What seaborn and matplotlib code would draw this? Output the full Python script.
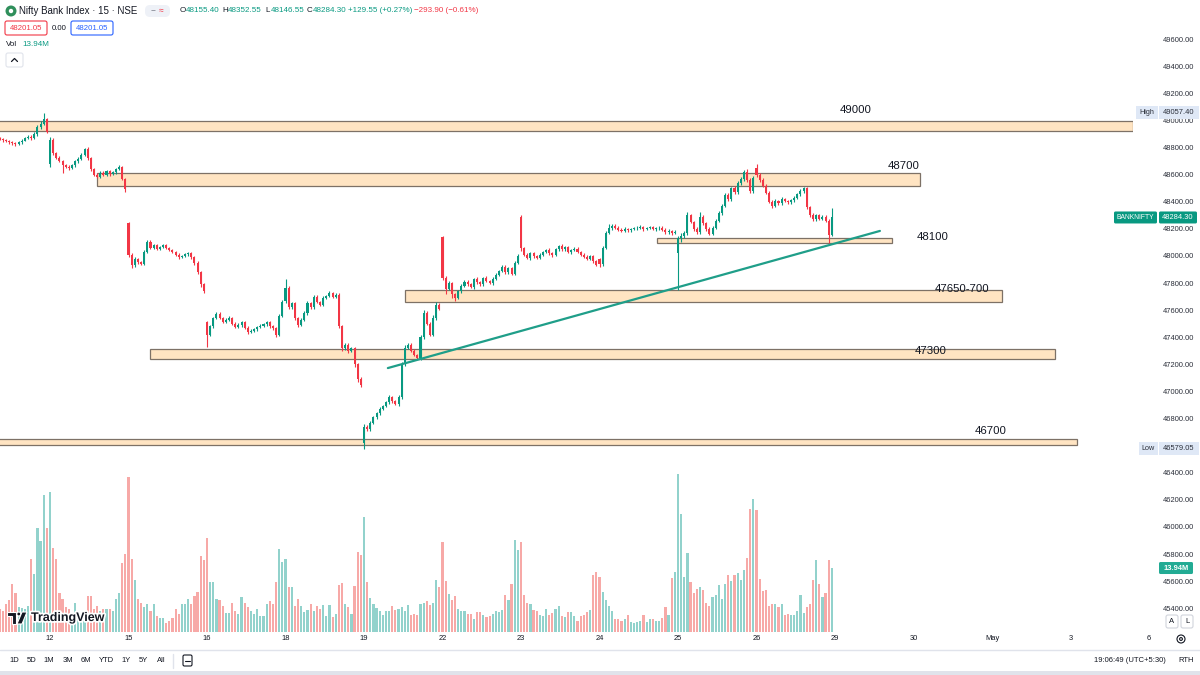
import numpy as np
import pandas as pd
import seaborn as sns
import matplotlib.pyplot as plt
import matplotlib.patheffects as pe
from matplotlib.patches import Rectangle, Circle, Polygon, FancyBboxPatch
from matplotlib.lines import Line2D
from matplotlib.transforms import IdentityTransform, blended_transform_factory
from matplotlib.ticker import FuncFormatter

# Nifty Bank Index, 15 min bars: last 16 bars of 10 Apr, then 12..26 Apr 2024 (25 bars a day)
closes = [
    48862, 48855, 48848, 48840, 48832, 48826, 48840, 48852, 48868, 48880, 48872, 48900, 48950, 48975, 49010, 48918,  # 10
    48858, 48760, 48725, 48700, 48668, 48660, 48650, 48668, 48700, 48718, 48745, 48790, 48720, 48640, 48600, 48585,
    48615, 48600, 48625, 48605, 48618, 48640, 48655, 48570, 48495,  # 12
    48010, 47930, 47975, 47955, 47940, 48030, 48105, 48060, 48078, 48052, 48065, 48080, 48062, 48045, 48030, 48010,
    47990, 48000, 48012, 48020, 47990, 47950, 47880, 47790, 47745,  # 15
    47420, 47480, 47540, 47575, 47545, 47515, 47530, 47545, 47500, 47475, 47490, 47510, 47470, 47440, 47450, 47460,
    47475, 47485, 47495, 47510, 47480, 47465, 47420, 47560, 47660,  # 16
    47765, 47620, 47650, 47540, 47490, 47530, 47580, 47650, 47620, 47700, 47660, 47640, 47690, 47705, 47725, 47700,
    47715, 47480, 47320, 47345, 47300, 47320, 47200, 47090, 47050,  # 18
    46740, 46720, 46770, 46810, 46840, 46870, 46890, 46920, 46960, 46930, 46905, 46960, 47200, 47320, 47345, 47300,
    47270, 47250, 47400, 47580, 47500, 47420, 47540, 47640, 47610,  # 19
    47840, 47760, 47800, 47720, 47690, 47740, 47780, 47810, 47790, 47770, 47830, 47805, 47790, 47840, 47815, 47800,
    47830, 47860, 47890, 47920, 47880, 47910, 47870, 47950, 48000,  # 22
    48060, 48010, 47985, 48020, 48000, 47985, 48010, 48030, 48045, 48020, 48005, 48050, 48075, 48050, 48065, 48030,
    48045, 48055, 48030, 48010, 47995, 47980, 48000, 47960, 47935,  # 23
    47940, 48060, 48170, 48205, 48225, 48210, 48195, 48185, 48200, 48190, 48198, 48205, 48210, 48215, 48200, 48205,
    48212, 48200, 48205, 48210, 48195, 48175, 48185, 48170, 48180,  # 24
    48135, 48150, 48170, 48300, 48250, 48200, 48175, 48290, 48240, 48200, 48165, 48210, 48260, 48320, 48370, 48450,
    48420, 48500, 48470, 48540, 48565, 48620, 48560, 48480, 48578.2,  # 25
    48600, 48560, 48520, 48465, 48400, 48370, 48405, 48390, 48420, 48405, 48395, 48410, 48430, 48455, 48480, 48500,
    48360, 48300, 48270, 48300, 48275, 48290, 48260, 48154.75, 48284.3,  # 26
]

volumes_m = [
    5.0, 4.6, 6.0, 7.0, 10.5, 8.5, 5.5, 5.3, 5.0, 5.6, 15.8, 12.6, 22.6, 19.8, 29.8, 22.6,
    30.5, 18.3, 16.0, 8.5, 7.2, 5.4, 5.0, 2.0, 6.3, 4.6, 3.5, 4.0, 7.8, 7.8, 5.0, 5.7, 4.5, 5.0, 5.0, 5.0, 4.5, 7.2, 8.5, 15.0, 17.0,
    33.8, 16.0, 11.3, 7.2, 6.3, 5.5, 6.0, 4.5, 6.0, 3.5, 3.0, 3.0, 2.0, 2.5, 3.0, 5.0, 4.0, 6.0, 6.2, 7.2, 6.0, 7.8, 8.7, 16.6, 15.7,
    20.5, 10.9, 10.9, 7.2, 7.0, 5.7, 4.2, 4.2, 6.3, 4.5, 4.0, 7.6, 6.3, 5.5, 4.5, 4.0, 5.0, 3.5, 3.5, 6.0, 6.8, 6.0, 11.0, 18.0, 15.3,
    16.0, 9.8, 9.8, 5.7, 7.2, 5.7, 4.3, 4.8, 6.0, 4.6, 5.7, 5.0, 5.9, 3.5, 5.9, 3.2, 4.0, 10.2, 10.7, 6.0, 5.5, 4.0, 10.0, 17.4, 16.8,
    25.0, 11.0, 7.5, 6.1, 5.2, 4.5, 3.6, 4.6, 4.6, 5.6, 4.9, 5.0, 5.4, 4.5, 5.8, 3.6, 3.9, 3.8, 6.1, 6.3, 6.7, 5.8, 6.3, 11.4, 9.8,
    19.6, 11.2, 8.3, 7.0, 7.9, 5.0, 4.5, 4.5, 4.0, 4.0, 2.9, 4.4, 4.4, 3.8, 3.3, 3.4, 4.0, 4.6, 4.4, 4.7, 8.1, 7.0, 10.5, 20.0, 17.8,
    19.5, 8.0, 6.3, 6.0, 4.9, 4.5, 3.6, 3.4, 5.0, 3.6, 4.1, 5.0, 5.6, 3.4, 3.3, 4.3, 4.4, 3.4, 2.5, 3.4, 3.6, 4.4, 4.9, 12.5, 13.0,
    11.9, 8.7, 6.9, 5.6, 4.6, 2.9, 2.9, 2.5, 2.9, 3.8, 2.2, 2.0, 2.2, 2.5, 3.6, 2.2, 2.9, 2.9, 2.5, 2.5, 3.0, 5.4, 3.6, 11.8, 13.1,
    34.4, 25.8, 12.0, 17.2, 10.9, 8.4, 9.4, 9.9, 9.2, 6.3, 5.7, 7.6, 8.1, 10.2, 7.2, 10.5, 12.5, 11.2, 12.5, 12.9, 11.3, 13.6, 16.1, 26.8, 29.0,
    26.5, 11.5, 9.0, 9.1, 5.7, 6.1, 6.0, 5.4, 6.0, 3.8, 4.0, 3.6, 3.8, 4.6, 8.1, 4.1, 5.4, 6.0, 11.4, 15.6, 10.5, 7.6, 8.4, 15.6, 13.94,
]

# wick length above / below the body, in index points
wick_up = [
    10, 8, 12, 10, 8, 10, 12, 8, 10, 14, 12, 15, 20, 18, 47.4, 10,
    22, 15, 10, 12, 8, 12, 10, 8, 12, 10, 14, 10, 12, 8, 10, 12, 10, 14, 10, 8, 12, 10, 14, 10, 8,
    12, 10, 14, 8, 10, 12, 13, 10, 8, 10, 8, 10, 8, 6, 10, 8, 10, 8, 10, 12, 8, 10, 12, 10, 14,
    8, 14, 10, 12, 10, 8, 12, 10, 8, 10, 12, 10, 8, 10, 12, 10, 8, 10, 8, 12, 10, 8, 12, 14, 16,
    65, 12, 14, 10, 12, 10, 14, 18, 12, 10, 14, 10, 12, 10, 14, 12, 10, 12, 14, 10, 12, 10, 12, 10, 14,
    20, 10, 12, 8, 10, 12, 8, 10, 12, 8, 10, 14, 16, 24, 12, 10, 12, 8, 20, 24, 12, 10, 22, 18, 12,
    10, 14, 12, 10, 8, 12, 10, 14, 10, 12, 10, 12, 10, 8, 12, 10, 14, 12, 10, 12, 10, 12, 10, 14, 12,
    13, 10, 12, 10, 8, 10, 12, 10, 8, 12, 10, 12, 8, 10, 12, 10, 8, 10, 12, 8, 10, 12, 10, 8, 10,
    10, 12, 14, 31, 12, 10, 8, 10, 12, 8, 10, 8, 10, 12, 8, 10, 12, 8, 10, 12, 8, 10, 12, 10, 14,
    15, 20, 14, 25, 12, 10, 12, 35, 12, 10, 14, 12, 10, 14, 12, 16, 14, 12, 14, 10, 16, 12, 20, 14, 12,
    29, 12, 14, 10, 12, 10, 14, 10, 12, 10, 8, 10, 12, 10, 14, 12, 10, 12, 14, 10, 12, 10, 14, 10, 68.25,
]
wick_down = [
    8, 10, 6, 12, 10, 14, 8, 10, 6, 8, 15, 10, 12, 15, 10, 12,
    20, 12, 10, 8, 56, 10, 12, 10, 8, 12, 10, 8, 14, 12, 10, 8, 12, 10, 8, 12, 10, 14, 8, 12, 20,
    20, 20, 10, 12, 8, 10, 8, 12, 10, 8, 6, 8, 10, 8, 10, 12, 10, 8, 6, 10, 12, 14, 10, 20, 18,
    90, 10, 12, 8, 10, 12, 8, 10, 12, 10, 8, 12, 10, 14, 8, 10, 12, 8, 10, 8, 12, 10, 18, 10, 12,
    10, 12, 14, 16, 12, 10, 8, 12, 10, 12, 8, 10, 12, 8, 10, 12, 10, 14, 18, 12, 14, 10, 16, 18, 14,
    40.95, 12, 10, 8, 10, 12, 10, 8, 10, 12, 8, 10, 14, 12, 10, 12, 10, 12, 14, 12, 10, 14, 12, 10, 12,
    20, 40, 12, 30, 25, 10, 12, 10, 12, 8, 10, 12, 10, 12, 8, 10, 12, 10, 8, 10, 12, 10, 12, 10, 8,
    20, 12, 10, 14, 12, 10, 8, 12, 10, 12, 10, 8, 10, 12, 10, 8, 12, 10, 8, 10, 12, 10, 8, 14, 12,
    20, 12, 10, 8, 10, 12, 8, 10, 8, 10, 12, 8, 10, 8, 12, 10, 8, 10, 12, 10, 14, 12, 10, 12, 10,
    268, 30, 20, 12, 10, 14, 12, 10, 14, 12, 10, 12, 10, 12, 14, 10, 12, 14, 10, 12, 14, 10, 12, 16, 14,
    20, 14, 12, 10, 12, 14, 10, 12, 10, 8, 10, 12, 10, 12, 10, 14, 12, 10, 12, 14, 10, 12, 10, 58.75, 8.85,
]

# opens that do not start at the previous close
gap_opens = {0: 48870, 16: 48680, 41: 48240, 66: 47515, 91: 47665, 116: 46620,
             141: 48140, 166: 48290, 191: 47975, 216: 48020, 241: 48650, 265: 48155.4}

date_labels = ['12', '15', '16', '18', '19', '22', '23', '24', '25', '26', '29', '30', 'May', '3', '6']
date_bars = [16, 41, 66, 91, 116, 141, 166, 191, 216, 241, 266, 291, 316, 341, 366]

# drawn support / resistance zones (bar index from..to, price low..high)
band_names = ['49000', '48700', '48100', '47650-700', '47300', '46700']
band_low = [48922, 48517, 48096, 47661, 47240, 46605]
band_high = [48996, 48612, 48133, 47749, 47314, 46649]
band_from = [-5, 31, 209.3, 129.1, 47.8, -5]
band_to = [360.9, 293.1, 284.2, 319.2, 336.1, 343.1]

trend_bars = [123.6, 280.3]
trend_prices = [47173, 48185]

price_ticks = list(range(45400, 49601, 200))

UP, DOWN = '#089981', '#f23645'
VOL_UP, VOL_DOWN = '#92d2cc', '#f7a9a7'
INK = '#131722'
W, H = 1200, 675

sns.set_theme(style='white')
plt.rcParams['font.family'] = ['Liberation Sans', 'DejaVu Sans']

n = len(closes)
opens = [gap_opens[0]]
for i in range(1, n):
    opens.append(gap_opens.get(i, closes[i - 1]))

df = pd.DataFrame({'bar': np.arange(n), 'open': opens, 'close': closes, 'vol': volumes_m})
df['high'] = df[['open', 'close']].max(axis=1) + np.array(wick_up)
df['low'] = df[['open', 'close']].min(axis=1) - np.array(wick_down)
df['dir'] = np.where(df['close'] >= df['open'], 'up', 'down')
colors = np.where(df['dir'] == 'up', UP, DOWN)

fig = plt.figure(figsize=(12, 6.75), dpi=100)
fig.patch.set_facecolor('white')
ax = fig.add_axes([0, 43 / H, 1133 / W, 632 / H])
axv = ax.twinx()
ax.set_zorder(axv.get_zorder() + 1)
ax.patch.set_visible(False)

# volume overlay
sns.barplot(data=df, x='bar', y='vol', hue='dir', palette={'up': VOL_UP, 'down': VOL_DOWN},
            native_scale=True, dodge=False, width=0.7, errorbar=None, legend=False,
            saturation=1, linewidth=0, ax=axv)
axv.set_ylim(0, 632 / 4.59)
axv.set_yticks([])
axv.set_xlabel('')
axv.set_ylabel('')

# zones
for lo, hi, x0, x1 in zip(band_low, band_high, band_from, band_to):
    ax.add_patch(Rectangle((x0, lo), x1 - x0, hi - lo, facecolor='#ffe4c2', edgecolor='#7d7166',
                           lw=0.9, zorder=2))

# candles
ax.vlines(df['bar'], df['low'], df['high'], colors=colors, lw=0.8, zorder=3)
body_lo = df[['open', 'close']].min(axis=1)
body_h = np.maximum((df['close'] - df['open']).abs(), 3)
ax.bar(df['bar'], body_h, bottom=body_lo, width=0.66, color=colors, lw=0, zorder=3)

ax.plot(trend_bars, trend_prices, color='#1f9e89', lw=1.6, zorder=4, solid_capstyle='round')

ax.set_xlim(16 - 50 / 3.14, 16 + (1133 - 50) / 3.14)
ax.set_ylim(48000 - 376 / 0.1355, 48000 + 256 / 0.1355)
for a in (ax, axv):
    for s in a.spines.values():
        s.set_visible(False)
    a.grid(False)
ax.set_xticks([])
ax.yaxis.tick_right()
ax.set_yticks(price_ticks)
ax.yaxis.set_major_formatter(FuncFormatter(lambda v, _: f'{v:.2f}'))
ax.tick_params(axis='y', length=0, pad=44, labelsize=5.4, labelcolor='#2a2e39')
for t in ax.yaxis.get_major_ticks():
    t.label2.set_ha('right')

# date axis
tr = blended_transform_factory(ax.transData, ax.transAxes)
for lab, b in zip(date_labels, date_bars):
    ax.text(b, -0.011, lab, transform=tr, ha='center', va='center', fontsize=5.4, color=INK, clip_on=False)

ID = IdentityTransform()


def ptext(x, y, s, **kw):
    kw.setdefault('va', 'center')
    kw.setdefault('color', INK)
    fig.text(x, H - y, s, transform=ID, zorder=11, **kw)


def pbox(x0, y0, x1, y1, fc, ec='none', lw=0.8, r=0):
    style = f'round,pad=0,rounding_size={r}' if r else 'square,pad=0'
    fig.add_artist(FancyBboxPatch((x0, H - y1), x1 - x0, y1 - y0, boxstyle=style,
                                  transform=ID, fc=fc, ec=ec, lw=lw, zorder=10))


def price_y(p):
    return H - ax.transData.transform((0, p))[1]


# zone labels
for name, (x, y) in zip(band_names, [(840, 110), (888, 166), (917, 237), (935, 289), (915, 351), (975, 431)]):
    ptext(x, y, name, fontsize=8.2)

# price scale markers (they cover the round-number label underneath, as on the chart)
hi_val, lo_val = df['high'].max(), df['low'].min()
for tag, val, x0 in [('High', hi_val, 1136), ('Low', lo_val, 1139)]:
    y = price_y(val)
    pbox(x0, y - 6.5, 1158, y + 6.5, '#dfe8f6')
    pbox(1159, y - 6.5, 1199, y + 6.5, '#dfe8f6')
    ptext((x0 + 1158) / 2, y, tag, fontsize=5.2, ha='center', color='#2a2e39')
    ptext(1194, y, f'{val:.2f}', fontsize=5.4, ha='right', color='#2a2e39')

last = df.iloc[-1]
yl = price_y(last['close'])
pbox(1114, yl - 6, 1157, yl + 6, UP, r=1.5)
pbox(1159, yl - 6, 1197, yl + 6, UP, r=1.5)
ptext(1135.5, yl, 'BANKNIFTY', fontsize=4.9, ha='center', color='white')
ptext(1178, yl, f"{last['close']:.2f}", fontsize=5.4, ha='center', color='white')

yv = H - axv.transData.transform((0, last['vol']))[1]
pbox(1159, yv - 6, 1193, yv + 6, '#22ab94', r=1.5)
ptext(1176, yv, f"{last['vol']:.2f}M", fontsize=5.4, ha='center', color='white', fontweight='bold')

# header legend
fig.add_artist(Circle((11, H - 11), 5.5, transform=ID, fc='#2f8f5b', ec='none', zorder=10))
fig.add_artist(Circle((11, H - 11), 2.2, transform=ID, fc='white', ec='none', zorder=10))
ptext(19, 11, 'Nifty Bank Index · 15 · NSE', fontsize=7)
pbox(145, 5, 170, 17, '#eef1f7', r=5)
ptext(151, 11, '\u2212', fontsize=6, color='#787b86')
ptext(159, 11, '\u2248', fontsize=6, color=DOWN)

prev_close = df['close'].iloc[-2]
day_ref = df['close'].iloc[240]
chg = last['close'] - prev_close
dchg = last['close'] - day_ref
for letter, val, x in [('O', last['open'], 180), ('H', last['high'], 222),
                       ('L', last['low'], 265), ('C', last['close'], 307)]:
    ptext(x, 11, letter, fontsize=5.8)
    ptext(x + 6, 11, f'{val:.2f}', fontsize=5.8, color=UP)
ptext(348, 11, f'+{chg:.2f} (+{chg / prev_close * 100:.2f}%)', fontsize=5.8, color=UP)
ptext(414, 11, f'\u2212{abs(dchg):.2f} (\u2212{abs(dchg) / day_ref * 100:.2f}%)', fontsize=5.8, color=DOWN)

pbox(5, 21, 47, 35, 'white', ec=DOWN, lw=0.8, r=2)
ptext(26, 28, '48201.05', fontsize=5.6, ha='center', color=DOWN)
ptext(59, 28, '0.00', fontsize=5.6, ha='center')
pbox(71, 21, 113, 35, 'white', ec='#2962ff', lw=0.8, r=2)
ptext(92, 28, '48201.05', fontsize=5.6, ha='center', color='#2962ff')
ptext(6, 45, 'Vol', fontsize=5.8)
ptext(22, 45, f"{last['vol']:.2f}M", fontsize=5.8, color=UP)
pbox(6, 53, 23, 67, 'white', ec='#e0e3eb', lw=0.8, r=2)
fig.add_artist(Line2D([11.5, 14.5, 17.5], [H - 61.5, H - 58.5, H - 61.5], transform=ID, color=INK, lw=0.9, zorder=11))

# TradingView watermark
halo = [pe.withStroke(linewidth=2.5, foreground='white')]
fig.add_artist(Polygon([(7, H - 612), (16, H - 612), (16, H - 624), (12, H - 624), (12, H - 616), (7, H - 616)],
                       closed=True, transform=ID, fc=INK, ec='white', lw=0.8, zorder=10))
fig.add_artist(Circle((18.8, H - 614), 2.0, transform=ID, fc=INK, ec='white', lw=0.8, zorder=10))
fig.add_artist(Polygon([(22, H - 612), (27, H - 612), (22, H - 624), (17, H - 624)],
                       closed=True, transform=ID, fc=INK, ec='white', lw=0.8, zorder=10))
ptext(31, 618, 'TradingView', fontsize=9, fontweight='bold', path_effects=halo)

# A / L and settings on price scale
pbox(1166, 615, 1178, 628, 'white', ec='#d1d4dc', lw=0.8, r=2)
pbox(1181, 615, 1193, 628, 'white', ec='#d1d4dc', lw=0.8, r=2)
ptext(1172, 621.5, 'A', fontsize=5.5, ha='center')
ptext(1187, 621.5, 'L', fontsize=5.5, ha='center')
fig.add_artist(Circle((1181, H - 639), 4.0, transform=ID, fc='none', ec=INK, lw=0.8, zorder=10))
fig.add_artist(Circle((1181, H - 639), 1.4, transform=ID, fc='none', ec=INK, lw=0.8, zorder=10))

# bottom toolbar
fig.add_artist(Line2D([0, W], [H - 649.5, H - 649.5], transform=ID, color='#e0e3eb', lw=1, zorder=10))
for lab, x in zip(['1D', '5D', '1M', '3M', '6M', 'YTD', '1Y', '5Y', 'All'],
                  [14, 32, 49, 68, 86, 106, 126, 143, 161]):
    ptext(x, 661, lab, fontsize=5.5, ha='center')
fig.add_artist(Line2D([173, 173], [H - 654, H - 668], transform=ID, color='#e0e3eb', lw=1, zorder=10))
pbox(183, 655, 192, 666, 'none', ec=INK, lw=0.8, r=1.5)
fig.add_artist(Line2D([185, 190], [H - 661, H - 661], transform=ID, color=INK, lw=0.8, zorder=11))
ptext(1166, 661, '19:06:49 (UTC+5:30)', fontsize=5.5, ha='right')
ptext(1186, 661, 'RTH', fontsize=5.5, ha='center')
pbox(0, 671, W, H, '#e0e3eb')

fig.savefig('out.png', dpi=100)
